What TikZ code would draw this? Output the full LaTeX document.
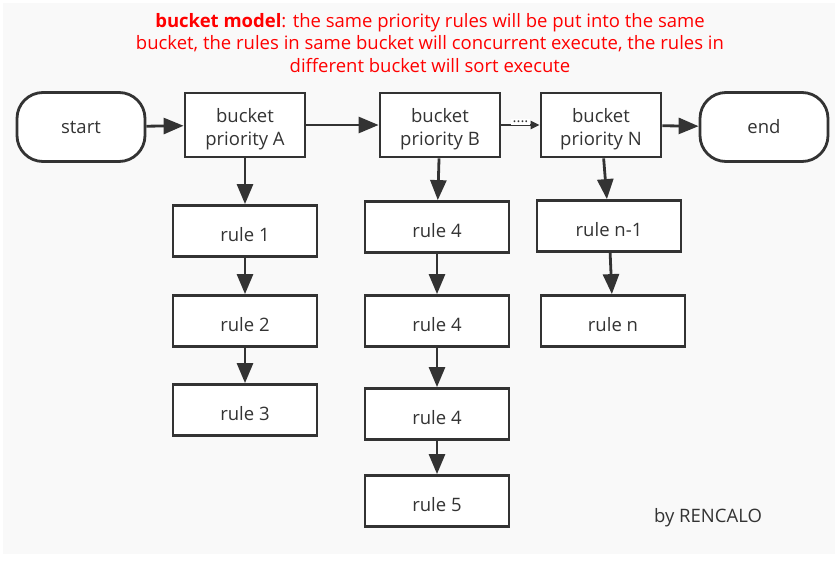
\documentclass[tikz,border=0pt]{standalone}
\usepackage{fontspec}
\setmainfont{Open Sans}
\usetikzlibrary{arrows.meta}
\definecolor{ink}{HTML}{333333}
\definecolor{paper}{HTML}{F9F9F9}
\definecolor{note}{HTML}{FF0000}
\newcommand\lw{2.8pt}
\tikzset{
	flow/.style={draw=ink,line width=\lw,fill=white,text=ink,font=\fontsize{18.5}{23}\selectfont,align=center,inner sep=0pt},
	term/.style={flow,rounded corners=26pt,minimum width=128pt,minimum height=69pt},
	bucket/.style={flow,minimum width=120pt,minimum height=64pt,text height=46pt},
	rulebox/.style={flow,minimum width=144pt,minimum height=51pt,execute at begin node={\rule{0pt}{22pt}}},
	link/.style={draw=ink,line width=\lw,-{Triangle[length=20pt,width=16pt]}},
	gap/.style={draw=ink,line width=\lw,-{Triangle[length=9pt,width=8pt]}},
}

\begin{document}
\begin{tikzpicture}[x=1pt,y=-1pt]
\useasboundingbox[fill=white] (0,0) rectangle (838,560);
\fill[paper] (3,3) rectangle (835,554);

\node[text=note,align=center,font=\fontsize{18.5}{22.5}\selectfont] (title) at (430,43)
	{\textbf{bucket model}: the same priority rules will be put into the same\\
	bucket, the rules in same bucket will concurrent execute, the rules in\\
	different bucket will sort execute};

\node[term] (start) at (81,127) {start};
\node[bucket] (bktA) at (245,125) {bucket\\priority A};
\node[bucket] (bktB) at (440,125) {bucket\\priority B};
\node[bucket] (bktN) at (601,125) {bucket\\priority N};
\node[term] (end) at (764,127) {end};

\foreach \n/\t/\y in {a1/rule 1/231, a2/rule 2/321, a3/rule 3/410} {
	\node[rulebox] (\n) at (245,\y) {\t};
}
\foreach \n/\t/\y in {b1/rule 4/227, b2/rule 4/321, b3/rule 4/414, b4/rule 5/501} {
	\node[rulebox] (\n) at (437,\y) {\t};
}
\node[rulebox] (n1) at (609,226) {rule n-1};
\node[rulebox] (n2) at (613,321) {rule n};

\draw[link] (start) -- (bktA);
\draw[link] (bktA) -- (bktB);
\draw[gap] (bktB) -- node[fill=white,inner sep=2pt,yshift=3pt,text=ink,font=\fontsize{15}{15}\selectfont] {....} (bktN);
\draw[link] (bktN) -- (end);

\draw[link] (bktA) -- (a1);
\draw[link] (a1) -- (a2);
\draw[link] (a2) -- (a3);
\draw[link] (bktB) -- (b1);
\draw[link] (b1) -- (b2);
\draw[link] (b2) -- (b3);
\draw[link] (b3) -- (b4);
\draw[link] (bktN) -- (n1);
\draw[link] (n1) -- (n2);

\node[text=ink,font=\fontsize{18.5}{20}\selectfont] (sign) at (708,518) {by RENCALO};
\end{tikzpicture}
\end{document}
